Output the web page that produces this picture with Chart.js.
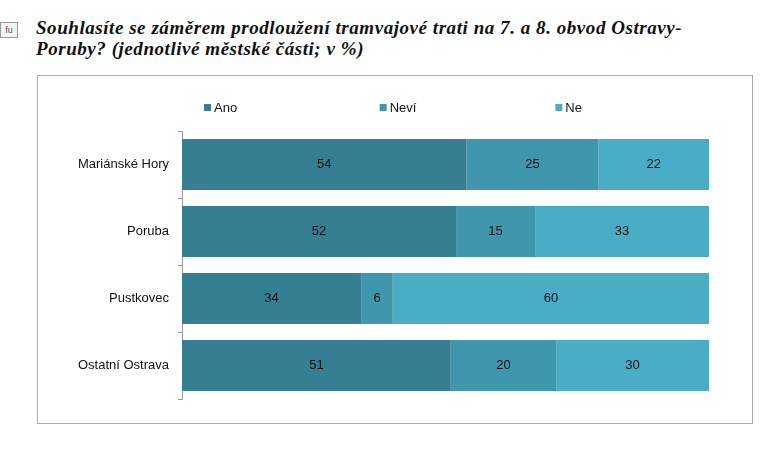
<!DOCTYPE html>
<html><head><meta charset="utf-8">
<script src="https://cdn.jsdelivr.net/npm/chart.js@4"></script>
<style>
body{margin:0;background:#fff;width:768px;height:453px;position:relative;overflow:hidden}
#t{position:absolute;left:36px;top:17px;font:bold italic 19px "Liberation Serif","DejaVu Serif",serif;letter-spacing:0.55px;line-height:21px;color:#111;white-space:nowrap}
#fu{position:absolute;left:0;top:22px;width:16px;height:14px;border:1px solid #999;font:9px "Liberation Sans";color:#555;text-align:center;line-height:14px;background:#f4f4f4}
#box{position:absolute;left:37px;top:75px;width:714px;height:347px;border:1px solid #aaa}
</style></head><body>
<div id="fu">fu</div>
<div id="t">Souhlasíte se záměrem prodloužení tramvajové trati na 7. a 8. obvod Ostravy-<br>Poruby? (jednotlivé městské části; v %)</div>
<div id="box"><canvas id="c" width="714" height="347"></canvas></div>
<script>
const categories=["Mariánské Hory","Poruba","Pustkovec","Ostatní Ostrava"];
const seriesNames=["Ano","Neví","Ne"];
const ano=[54,52,34,51];
const nevi=[25,15,6,20];
const ne=[22,33,60,30];
const colors=["#367f92","#3f97ae","#4aadc6"];
const labelsPlugin={id:'lbl',afterDatasetsDraw(ch){
  const ctx=ch.ctx;ctx.save();ctx.font='13px "Liberation Sans",Arial';ctx.fillStyle='#111';ctx.textAlign='center';ctx.textBaseline='middle';
  ch.data.datasets.forEach((ds,i)=>{ch.getDatasetMeta(i).data.forEach((b,j)=>{
    const x1=Math.min(b.x,ch.chartArea.right);ctx.fillText(String(ds.data[j]),(b.base+x1)/2,b.y);});});
  const a=ch.chartArea,w=(a.right-a.left)/3;
  ctx.textAlign='left';
  seriesNames.forEach((n,i)=>{const x=a.left+22+i*w;ctx.fillStyle=colors[i];ctx.fillRect(x,28,7,7);ctx.fillStyle='#111';ctx.fillText(n,x+10,32);});
  ctx.restore();}};
new Chart(document.getElementById('c'),{type:'bar',
 data:{labels:categories,datasets:[
  {label:seriesNames[0],data:ano,backgroundColor:colors[0]},
  {label:seriesNames[1],data:nevi,backgroundColor:colors[1]},
  {label:seriesNames[2],data:ne,backgroundColor:colors[2]}]},
 options:{indexAxis:'y',responsive:false,animation:false,
  layout:{padding:{top:55,bottom:24,left:0,right:43}},
  categoryPercentage:0.76,barPercentage:1,
  plugins:{legend:{display:false},tooltip:{enabled:false}},
  scales:{x:{stacked:true,min:0,max:100,display:false},
   y:{stacked:true,afterFit(s){s.width=144;},
    grid:{offset:true,drawOnChartArea:false,tickLength:4,color:'#999'},
    border:{color:'#999'},
    ticks:{padding:9,color:'#111',font:{family:'"Liberation Sans",Arial',size:13}}}}},
 plugins:[labelsPlugin]});
</script></body></html>
